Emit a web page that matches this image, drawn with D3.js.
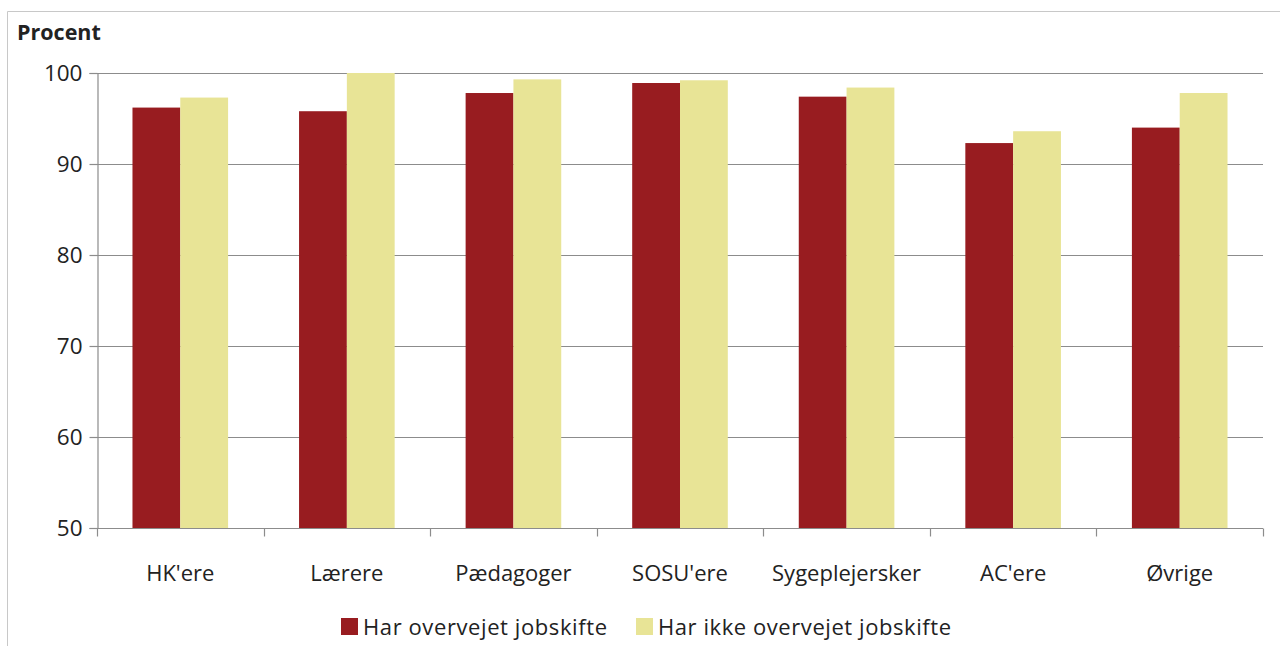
<!DOCTYPE html>
<html>
<head>
<meta charset="utf-8">
<script src="https://cdn.jsdelivr.net/npm/d3@7"></script>
<style>
  body { margin: 0; background: #fff; }
  svg text { font-family: "Open Sans", "Noto Sans", sans-serif; fill: #222; }
</style>
</head>
<body>
<svg id="chart" width="1280" height="646"></svg>
<script>
// 集計値
const categories = ["HK'ere", "Lærere", "Pædagoger", "SOSU'ere", "Sygeplejersker", "AC'ere", "Øvrige"];
const series_names = ["Har overvejet jobskifte", "Har ikke overvejet jobskifte"];
const overvejet = [96.2, 95.8, 97.8, 98.9, 97.4, 92.3, 94.0];
const ikke_overvejet = [97.3, 100.0, 99.3, 99.2, 98.4, 93.6, 97.8];
const y_ticks = [50, 60, 70, 80, 90, 100];
const colors = ["#981c20", "#e8e496"];

const svg = d3.select('#chart');
const plot = { left: 97, right: 1263, top: 73, bottom: 528 };

// 外枠
svg.append('path')
    .attr('d', 'M7.5,646 V11.5 H1280')
    .attr('fill', 'none')
    .attr('stroke', '#c8c8c8');

const x = d3.scaleBand()
    .domain(categories)
    .range([plot.left, plot.right])
    .paddingInner(0.426)
    .paddingOuter(0.213);
const x_inner = d3.scaleBand()
    .domain([0, 1])
    .range([0, x.bandwidth()]);
const y = d3.scaleLinear()
    .domain([50, 100])
    .range([plot.bottom, plot.top]);

// 横グリッド
svg.append('g')
    .selectAll('line')
    .data(y_ticks.filter(d => d > 50))
    .join('line')
    .attr('x1', plot.left)
    .attr('x2', plot.right)
    .attr('y1', d => Math.round(y(d)) + 0.5)
    .attr('y2', d => Math.round(y(d)) + 0.5)
    .attr('stroke', '#8c8c8c')
    .attr('stroke-width', 1.2);

// 棒
const rows = categories.map((c, i) => ({ cat: c, vals: [overvejet[i], ikke_overvejet[i]] }));
svg.append('g')
    .selectAll('g')
    .data(rows)
    .join('g')
    .attr('transform', d => `translate(${x(d.cat)},0)`)
    .selectAll('rect')
    .data(d => d.vals.map((v, k) => ({ v, k })))
    .join('rect')
    .attr('x', d => x_inner(d.k))
    .attr('width', x_inner.bandwidth())
    .attr('y', d => y(d.v))
    .attr('height', d => y(50) - y(d.v))
    .attr('fill', d => colors[d.k]);

// Y軸
const y_axis = svg.append('g')
    .attr('transform', `translate(${plot.left + 0.5},0)`)
    .call(d3.axisLeft(y).tickValues(y_ticks).tickSize(8).tickPadding(7));
y_axis.select('.domain').attr('stroke', '#8c8c8c').attr('stroke-width', 1.2);
y_axis.selectAll('.tick line').attr('stroke', '#8c8c8c').attr('stroke-width', 1.2);
y_axis.selectAll('.tick text')
    .attr('font-size', 22.5)
    .attr('font-family', '"Open Sans", sans-serif')
    .attr('fill', '#222');

// X軸（区切りの目盛りは棒の間に置く）
const x_axis = svg.append('g')
    .attr('transform', `translate(0,${plot.bottom + 0.5})`);
x_axis.append('line')
    .attr('x1', plot.left)
    .attr('x2', plot.right)
    .attr('stroke', '#8c8c8c')
    .attr('stroke-width', 1.2);
const step = x.step();
x_axis.selectAll('line.sep')
    .data(d3.range(categories.length + 1))
    .join('line')
    .attr('class', 'sep')
    .attr('x1', i => Math.round(plot.left + i * step) + 0.5)
    .attr('x2', i => Math.round(plot.left + i * step) + 0.5)
    .attr('y1', 0)
    .attr('y2', 8)
    .attr('stroke', '#8c8c8c')
    .attr('stroke-width', 1.2);
x_axis.selectAll('text')
    .data(categories)
    .join('text')
    .attr('x', d => x(d) + x.bandwidth() / 2)
    .attr('y', 52)
    .attr('text-anchor', 'middle')
    .attr('font-size', 22)
    .text(d => d);

// 単位
svg.append('text')
    .attr('x', 17)
    .attr('y', 40)
    .attr('font-size', 21.5)
    .attr('font-weight', 'bold')
    .text('Procent');

// 凡例
const legend_x = [341, 636];
const legend = svg.append('g')
    .selectAll('g')
    .data(series_names)
    .join('g')
    .attr('transform', (d, i) => `translate(${legend_x[i]},618)`);
legend.append('rect')
    .attr('width', 17)
    .attr('height', 17)
    .attr('fill', (d, i) => colors[i]);
legend.append('text')
    .attr('x', 22)
    .attr('y', 17)
    .attr('font-size', 22)
    .attr('textLength', (d, i) => i === 0 ? 244 : 293)
    .text(d => d);
</script>
</body>
</html>
